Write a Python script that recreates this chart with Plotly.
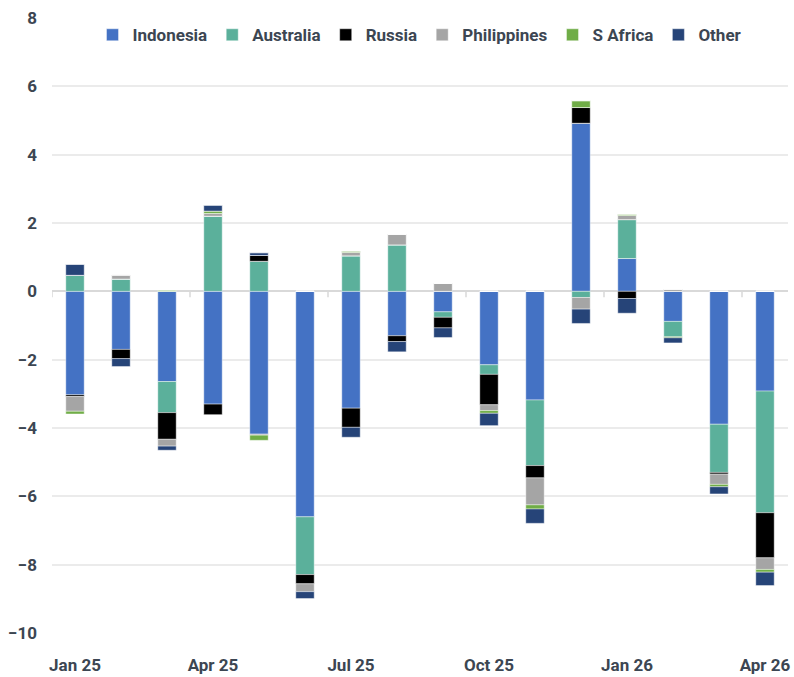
import plotly.graph_objects as go

months = ["Jan 25", "Feb 25", "Mar 25", "Apr 25", "May 25", "Jun 25", "Jul 25", "Aug 25",
          "Sep 25", "Oct 25", "Nov 25", "Dec 25", "Jan 26", "Feb 26", "Mar 26", "Apr 26"]

# positive and negative contributions per country (stacked, relative)
indonesia_pos = [0, 0, 0, 0, 0, 0, 0, 0, 0, 0, 0, 4.92, 0.96, 0, 0, 0]
indonesia_neg = [-3.03, -1.70, -2.64, -3.30, -4.18, -6.60, -3.42, -1.30, -0.60, -2.15, -3.18, 0, 0, -0.88, -3.89, -2.92]
australia_pos = [0.47, 0.36, 0, 2.20, 0.88, 0, 1.04, 1.36, 0, 0, 0, 0, 1.14, 0, 0, 0]
australia_neg = [0, 0, -0.91, 0, 0, -1.69, 0, 0, -0.16, -0.28, -1.92, -0.18, 0, -0.45, -1.41, -3.56]
russia_pos = [0, 0, 0, 0, 0.17, 0, 0, 0, 0, 0, 0, 0.46, 0, 0, 0, 0]
russia_neg = [-0.05, -0.27, -0.78, -0.31, 0, -0.27, -0.56, -0.17, -0.31, -0.89, -0.36, 0, -0.21, 0, -0.05, -1.32]
philippines_pos = [0, 0.12, 0, 0.08, 0, 0, 0.10, 0.31, 0.23, 0, 0, 0, 0.12, 0.06, 0, 0]
philippines_neg = [-0.43, 0, -0.20, 0, -0.03, -0.23, 0, 0, 0, -0.17, -0.79, -0.34, 0, 0, -0.30, -0.34]
safrica_pos = [0, 0, 0.04, 0.07, 0, 0, 0.04, 0, 0, 0, 0, 0.20, 0.04, 0, 0, 0]
safrica_neg = [-0.08, 0, 0, 0, -0.15, 0, 0, 0, 0, -0.08, -0.12, 0, 0, -0.03, -0.07, -0.08]
other_pos = [0.32, 0, 0, 0.17, 0.08, 0, 0, 0, 0, 0, 0, 0, 0, 0, 0, 0]
other_neg = [0, -0.23, -0.12, 0, 0, -0.20, -0.29, -0.30, -0.28, -0.36, -0.42, -0.42, -0.43, -0.15, -0.21, -0.39]

series = [
    ("Indonesia", indonesia_pos, indonesia_neg, "#4472C4"),
    ("Australia", australia_pos, australia_neg, "#5BB09B"),
    ("Russia", russia_pos, russia_neg, "#000000"),
    ("Philippines", philippines_pos, philippines_neg, "#A5A5A5"),
    ("S Africa", safrica_pos, safrica_neg, "#70AD47"),
    ("Other", other_pos, other_neg, "#264478"),
]

tick_idx = [0, 3, 6, 9, 12, 15]
x = list(range(len(months)))
TXT = "#3c4652"
FONT = "Roboto"
FS = 17

fig = go.Figure()
for name, pos, neg, col in series:
    fig.add_trace(go.Bar(x=x, y=pos, name=name, marker=dict(color=col, line=dict(width=0.6, color="rgba(255,255,255,0.7)")),
                         width=0.4, showlegend=True))
    fig.add_trace(go.Bar(x=x, y=neg, name=name, marker=dict(color=col, line=dict(width=0.6, color="rgba(255,255,255,0.7)")),
                         width=0.4, showlegend=False))

# small tick marks on the zero line at quarter boundaries
for b in [i - 0.5 for i in range(0, len(months), 3)]:
    fig.add_shape(type="line", xref="x", yref="y", x0=b, x1=b, ysizemode="pixel", yanchor=0,
                  y0=0, y1=-6, line=dict(color="#d9d9d9", width=1.5))

fig.update_layout(
    width=794, height=677,
    margin=dict(l=52, r=6, t=18, b=44),
    barmode="relative",
    plot_bgcolor="white", paper_bgcolor="white",
    font=dict(family=FONT, color=TXT, size=FS),
    legend=dict(orientation="h", x=0.5, xanchor="center", y=0.972, yanchor="middle",
                font=dict(family=FONT, size=FS, color=TXT, weight="bold"),
                itemwidth=30, bgcolor="rgba(0,0,0,0)"),
    xaxis=dict(range=[-0.5, 15.5], tickvals=tick_idx, ticktext=[months[i] for i in tick_idx],
               showgrid=False, zeroline=False, showline=False, ticks="", automargin=False,
               tickfont=dict(family=FONT, size=FS, color=TXT, weight="bold"),
               ticklabelstandoff=20),
    yaxis=dict(range=[-10, 8], dtick=2, showgrid=True, gridcolor="#ebebeb", gridwidth=1.5,
               zeroline=True, zerolinecolor="#d9d9d9", zerolinewidth=1.5, automargin=False,
               tickfont=dict(family=FONT, size=FS, color=TXT, weight="bold"),
               ticklabelstandoff=14, showline=False, ticks=""),
)

fig.write_html("out.html", config={"displayModeBar": False},
               post_script="document.body.style.margin='0';document.body.style.overflow='hidden';")
